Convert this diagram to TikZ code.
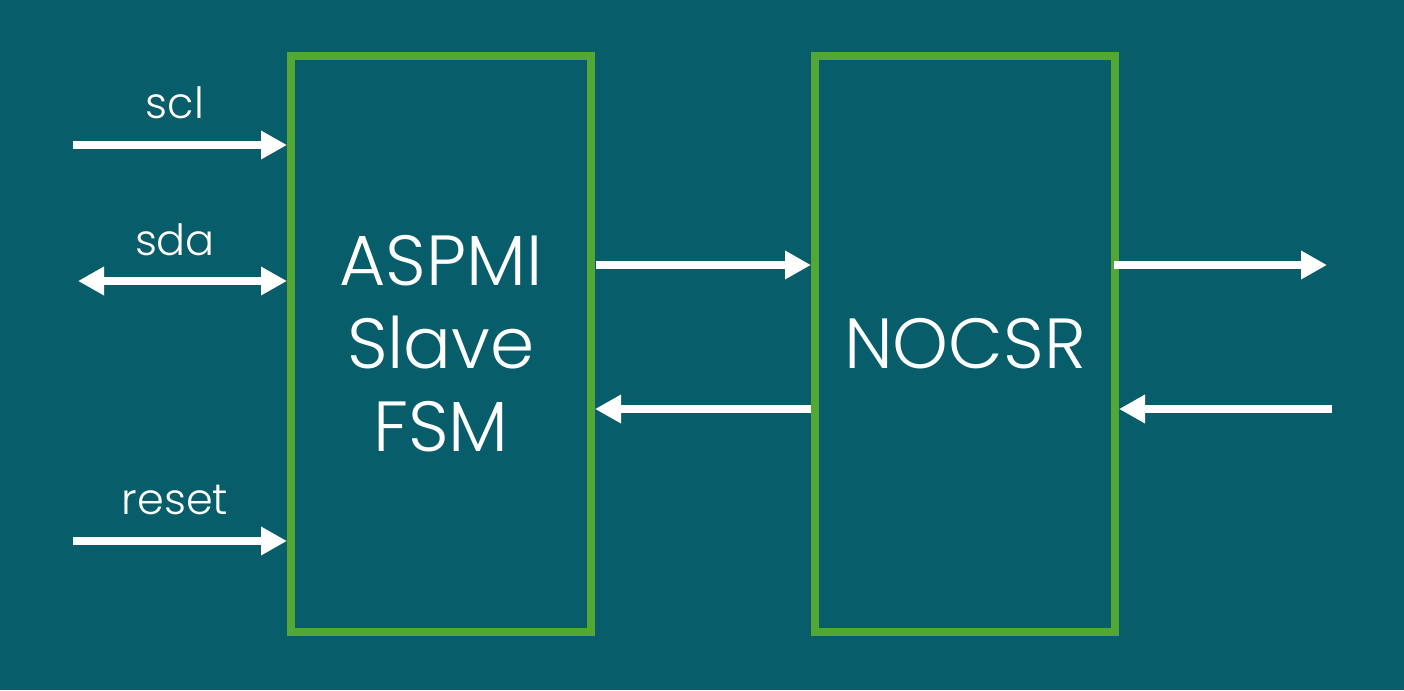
\documentclass[tikz,border=0pt]{standalone}
\usepackage{fontspec}
\setmainfont{Poppins Light}
\usetikzlibrary{arrows.meta,positioning,calc}
\definecolor{bgteal}{HTML}{075D69}
\definecolor{boxgreen}{HTML}{53A733}

\begin{document}
\begin{tikzpicture}[
  x=1pt, y=-1pt,
  block/.style={rectangle, draw=boxgreen, line width=8pt, minimum width=300pt, minimum height=576pt, align=center, text=white, font=\fontsize{71}{83}\selectfont},
  sig/.style={white, line width=8pt, -{Triangle[length=26pt,width=27pt]}},
  bisig/.style={sig, {Triangle[length=26pt,width=27pt]}-{Triangle[length=26pt,width=27pt]}},
  lbl/.style={text=white, font=\fontsize{43}{46}\selectfont},
]
  \fill[bgteal] (0,0) rectangle (1404,690);
  \useasboundingbox (0,0) rectangle (1404,690);

  \node[block] (fsm) at (441,344) {ASPMI\\Slave\\FSM};
  \node[block] (csr) at (965,344) {NOCSR};

  % inputs on the left
  \coordinate (sclin) at (73,145);
  \coordinate (sdain) at (78,281);
  \coordinate (rstin) at (73,541);
  \draw[sig] (sclin) -- (sclin -| fsm.west);
  \draw[bisig] (sdain) -- (sdain -| fsm.west);
  \draw[sig] (rstin) -- (rstin -| fsm.west);
  \node[lbl] (scl) at (175,103) {scl};
  \node[lbl] (sda) at (175,240) {sda};
  \node[lbl] (rst) at (175,500) {reset};

  % between the blocks
  \coordinate (req) at (596,265);
  \coordinate (rsp) at (811,409);
  \draw[sig] (req) -- (req -| csr.west);
  \draw[sig] (rsp) -- (rsp -| fsm.east);

  % outputs on the right
  \coordinate (outr) at (1114,265);
  \coordinate (inr) at (1332,409);
  \draw[sig] (outr) -- (1327,265);
  \draw[sig] (inr) -- (inr -| csr.east);
\end{tikzpicture}
\end{document}
